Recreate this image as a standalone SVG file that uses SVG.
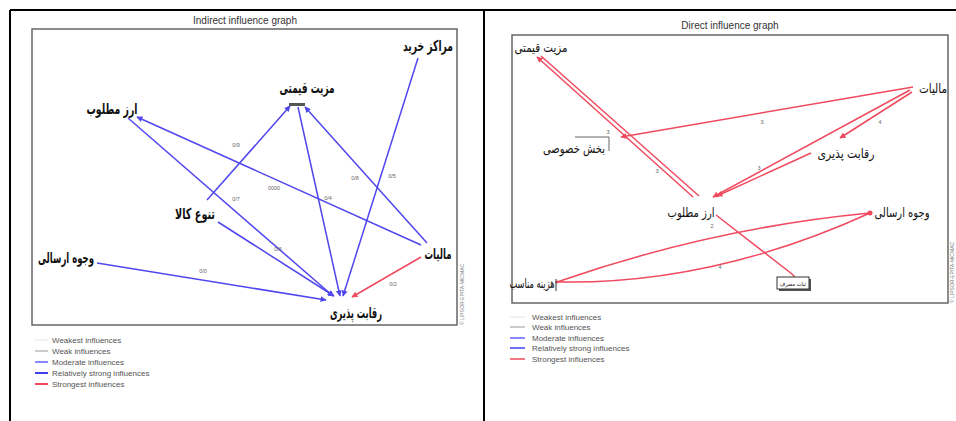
<svg xmlns="http://www.w3.org/2000/svg" width="956" height="421" viewBox="0 0 956 421">
<style>
.title{font-family:"Liberation Sans",Arial,sans-serif;font-size:10px;fill:#333;text-anchor:middle}
.fa{font-family:"DejaVu Sans",sans-serif;font-size:15px;font-weight:bold;fill:#111;text-anchor:middle}
.fa2{font-family:"DejaVu Sans",sans-serif;font-size:13px;fill:#111;text-anchor:middle}
.lbl{font-family:"Liberation Sans",Arial,sans-serif;font-size:5.5px;fill:#666;text-anchor:middle}
.leg{font-family:"Liberation Sans",Arial,sans-serif;font-size:8px;fill:#555}
.blue{stroke:#5046ee;stroke-width:1.5;fill:none}
.red{stroke:#f04a5e;stroke-width:1.5;fill:none}
.frame{fill:none;stroke:#666;stroke-width:1.5}
.vt{font-family:"Liberation Sans",Arial,sans-serif;font-size:5px;fill:#777}
</style>
<defs>
<marker id="ab" viewBox="0 0 10 10" refX="9" refY="5" markerWidth="7" markerHeight="6" markerUnits="userSpaceOnUse" orient="auto"><path d="M0,0 L10,5 L0,10 z" fill="#5046ee"/></marker>
<marker id="ar" viewBox="0 0 10 10" refX="9" refY="5" markerWidth="7" markerHeight="6" markerUnits="userSpaceOnUse" orient="auto"><path d="M0,0 L10,5 L0,10 z" fill="#f04a5e"/></marker>
</defs>
<rect width="956" height="421" fill="#fff"/>
<!-- table borders -->
<g id="table" stroke="#000" stroke-width="2">
<line x1="10" y1="10" x2="956" y2="10"/>
<line x1="10" y1="10" x2="10" y2="421"/>
<line x1="484" y1="10" x2="484" y2="421"/>
</g>
<!-- LEFT PANEL -->
<text class="title" x="245" y="24">Indirect influence graph</text>
<rect class="frame" x="32" y="29" width="425" height="296"/>
<text class="vt" transform="translate(464,325) rotate(-90)">© LIPSOR-EPITA-MICMAC</text>
<g id="left-connectors">
<line class="blue" x1="418" y1="58" x2="343" y2="296" marker-end="url(#ab)"/>
<line class="blue" x1="298" y1="107" x2="340" y2="296" marker-end="url(#ab)"/>
<line class="blue" x1="427" y1="243" x2="305" y2="107" marker-end="url(#ab)"/>
<line class="blue" x1="421" y1="245" x2="137" y2="117" marker-end="url(#ab)"/>
<line class="blue" x1="128" y1="118" x2="333" y2="296" marker-end="url(#ab)"/>
<line class="blue" x1="207" y1="200" x2="290" y2="106" marker-end="url(#ab)"/>
<line class="blue" x1="218" y1="222" x2="334" y2="296" marker-end="url(#ab)"/>
<line class="blue" x1="97" y1="263" x2="326" y2="300" marker-end="url(#ab)"/>
<line class="red" x1="421" y1="257" x2="352" y2="297" marker-end="url(#ar)"/>
<text class="lbl" x="236" y="147">0/9</text>
<text class="lbl" x="236" y="201">0/7</text>
<text class="lbl" x="274" y="190">0000</text>
<text class="lbl" x="355" y="180">0/8</text>
<text class="lbl" x="392" y="178">0/5</text>
<text class="lbl" x="328" y="200">0/4</text>
<text class="lbl" x="278" y="251">0/6</text>
<text class="lbl" x="203" y="273">0/0</text>
<text class="lbl" x="393" y="286">0/2</text>
</g>
<g id="L-marakez"><text class="fa" x="428" y="51" textLength="50" lengthAdjust="spacingAndGlyphs">مراکز خرید</text></g>
<g id="L-mazit"><text class="fa" x="307" y="93" textLength="55" lengthAdjust="spacingAndGlyphs">مزیت قیمتی</text><rect x="289" y="103" width="16" height="3" fill="#555"/></g>
<g id="L-arz"><text class="fa" x="112" y="114" textLength="51" lengthAdjust="spacingAndGlyphs">ارز مطلوب</text></g>
<g id="L-tanavo"><text class="fa" x="195" y="219" textLength="40" lengthAdjust="spacingAndGlyphs">تنوع کالا</text></g>
<g id="L-vojuh"><text class="fa" x="66" y="263" textLength="56" lengthAdjust="spacingAndGlyphs">وجوه ارسالی</text></g>
<g id="L-maliat"><text class="fa" x="438" y="259" textLength="27" lengthAdjust="spacingAndGlyphs">مالیات</text></g>
<g id="L-reqabat"><text class="fa" x="356" y="318" textLength="52" lengthAdjust="spacingAndGlyphs">رقابت پذیری</text></g>
<g id="left-legend">
<line x1="35" y1="340" x2="48" y2="340" stroke="#eee" stroke-width="1.5"/>
<line x1="35" y1="351" x2="48" y2="351" stroke="#999" stroke-width="1"/>
<line x1="35" y1="362" x2="48" y2="362" stroke="#6060ff" stroke-width="1.5"/>
<line x1="35" y1="373" x2="48" y2="373" stroke="#4040ee" stroke-width="2"/>
<line x1="35" y1="384" x2="48" y2="384" stroke="#f04a5e" stroke-width="2"/>
<text class="leg" x="52" y="343">Weakest influences</text>
<text class="leg" x="52" y="354">Weak influences</text>
<text class="leg" x="52" y="365">Moderate influences</text>
<text class="leg" x="52" y="376">Relatively strong influences</text>
<text class="leg" x="52" y="387">Strongest influences</text>
</g>
<!-- RIGHT PANEL -->
<text class="title" x="730" y="29">Direct influence graph</text>
<rect class="frame" x="512" y="35" width="436" height="268"/>
<text class="vt" transform="translate(954,303) rotate(-90)">© LIPSOR-EPITA-MICMAC</text>
<g id="right-connectors">
<line class="red" x1="693" y1="197" x2="537" y2="57" marker-end="url(#ar)"/>
<line class="red" x1="541" y1="56" x2="699" y2="196"/>
<line class="red" x1="913" y1="87" x2="621" y2="137" marker-end="url(#ar)"/>
<line class="red" x1="912" y1="92" x2="840" y2="138" marker-end="url(#ar)"/>
<line class="red" x1="910" y1="90" x2="713" y2="197" marker-end="url(#ar)"/>
<line class="red" x1="811" y1="153" x2="717" y2="196" marker-end="url(#ar)"/>
<path class="red" d="M716,215 L792,274 Q795,277 796,279"/>
<path class="red" d="M557,282 Q712,228 870,213"/>
<path class="red" d="M557,282 Q712,285 870,213"/>
<circle cx="870" cy="213" r="2.5" fill="#f04a5e"/>
<circle cx="557" cy="282" r="1.5" fill="#f04a5e"/>
<text class="lbl" x="762" y="124">3</text>
<text class="lbl" x="608" y="134">3</text>
<text class="lbl" x="880" y="124">4</text>
<text class="lbl" x="759" y="170">3</text>
<text class="lbl" x="657" y="173">3</text>
<text class="lbl" x="712" y="228">2</text>
<text class="lbl" x="720" y="269">4</text>
</g>
<g id="R-mazit"><text class="fa2" x="541" y="52" textLength="53" lengthAdjust="spacingAndGlyphs">مزیت قیمتی</text></g>
<g id="R-maliat"><text class="fa2" x="933" y="93" textLength="28" lengthAdjust="spacingAndGlyphs">مالیات</text></g>
<g id="R-bakhsh"><text class="fa2" x="574" y="153" textLength="62" lengthAdjust="spacingAndGlyphs">بخش خصوصی</text><polyline points="575,137 609,137 609,151" fill="none" stroke="#666" stroke-width="1"/></g>
<g id="R-reqabat"><text class="fa2" x="846" y="158" textLength="57" lengthAdjust="spacingAndGlyphs">رقابت پذیری</text></g>
<g id="R-arz"><text class="fa2" x="691" y="217" textLength="47" lengthAdjust="spacingAndGlyphs">ارز مطلوب</text></g>
<g id="R-vojuh"><text class="fa2" x="902" y="217" textLength="55" lengthAdjust="spacingAndGlyphs">وجوه ارسالی</text></g>
<g id="R-hazine"><text class="fa2" x="532" y="288" textLength="45" lengthAdjust="spacingAndGlyphs">هزینه مناسب</text><line x1="556" y1="279" x2="556" y2="291" stroke="#333" stroke-width="1"/></g>
<g id="R-box"><rect x="779" y="279" width="32" height="12" fill="#555"/><rect x="777" y="277" width="32" height="12" fill="#fff" stroke="#333" stroke-width="1"/><text x="793" y="286" font-family="DejaVu Sans,sans-serif" font-size="6" fill="#222" text-anchor="middle" textLength="26" lengthAdjust="spacingAndGlyphs">ثبات مصرف</text></g>
<g id="right-legend">
<line x1="510" y1="317" x2="525" y2="317" stroke="#eee" stroke-width="1.5"/>
<line x1="510" y1="327" x2="525" y2="327" stroke="#999" stroke-width="1"/>
<line x1="510" y1="338" x2="525" y2="338" stroke="#6060ff" stroke-width="1.5"/>
<line x1="510" y1="348" x2="525" y2="348" stroke="#4040ee" stroke-width="1.5"/>
<line x1="510" y1="359" x2="525" y2="359" stroke="#f04a5e" stroke-width="1.5"/>
<text class="leg" x="532" y="320">Weakest influences</text>
<text class="leg" x="532" y="330">Weak influences</text>
<text class="leg" x="532" y="341">Moderate influences</text>
<text class="leg" x="532" y="351">Relatively strong influences</text>
<text class="leg" x="532" y="362">Strongest influences</text>
</g>
</svg>
